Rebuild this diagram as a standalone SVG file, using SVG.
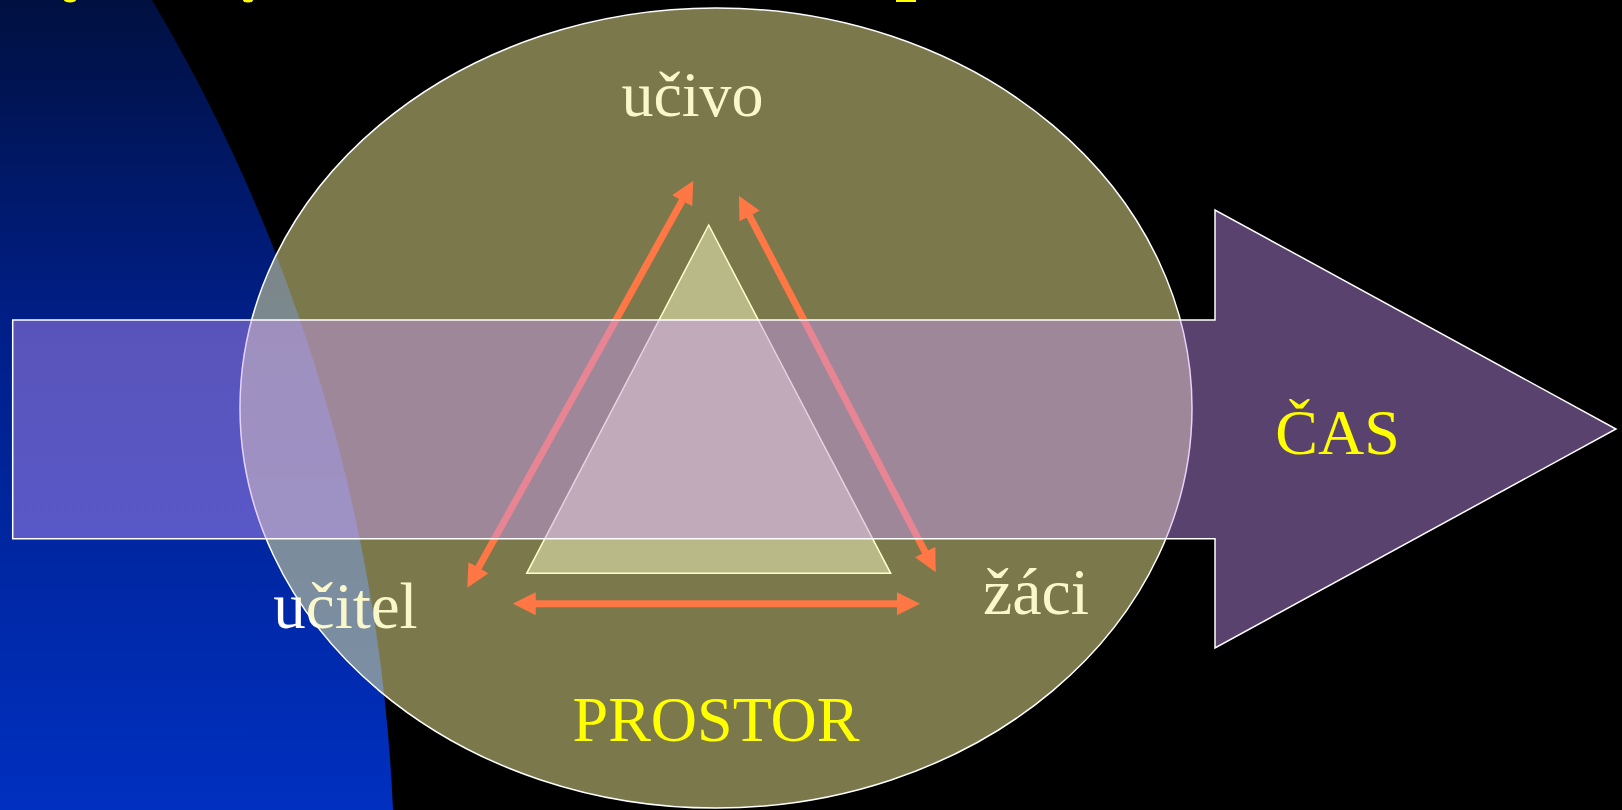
<svg xmlns="http://www.w3.org/2000/svg" width="1622" height="810" viewBox="0 0 1622 810">
  <defs>
    <linearGradient id="blueGrad" gradientUnits="userSpaceOnUse" x1="0" y1="0" x2="0" y2="810">
      <stop offset="0" stop-color="#001040"/>
      <stop offset="0.4" stop-color="#001f88"/>
      <stop offset="1" stop-color="#0030c0"/>
    </linearGradient>
    <marker id="head" markerUnits="userSpaceOnUse" markerWidth="23" markerHeight="23" refX="8" refY="11.5" orient="auto-start-reverse" viewBox="0 0 23 23">
      <path d="M0,0 L23,11.5 L0,23 Z" fill="#FF7744"/>
    </marker>
    <style>
      .lbl { font-family: "Liberation Serif", "Times New Roman", serif; fill: #FFFFFF; }
      .ylbl { font-family: "Liberation Serif", "Times New Roman", serif; fill: #FFFF00; }
      .conn { stroke: #FF7744; stroke-width: 7; fill: none; marker-start: url(#head); marker-end: url(#head); }
    </style>
  </defs>

  <rect x="0" y="0" width="1622" height="810" fill="#000000"/>
  <path id="bg-curve" d="M152,0 A1736,1736 0 0 1 393,810 L0,810 L0,0 Z" fill="url(#blueGrad)"/>

  <g id="title-fragments" fill="#FFFF00">
    <ellipse cx="70" cy="0" rx="6" ry="2.5"/>
    <ellipse cx="248" cy="0" rx="5" ry="2.5"/>
    <rect x="896" y="0" width="20" height="2"/>
  </g>

  <g id="node-ucivo"><text class="lbl" x="692.5" y="116" font-size="64" text-anchor="middle">učivo</text></g>
  <g id="node-ucitel"><text class="lbl" x="345.5" y="628" font-size="65" text-anchor="middle">učitel</text></g>
  <g id="node-zaci"><text class="lbl" x="1036" y="614" font-size="66" text-anchor="middle">žáci</text></g>

  <g id="node-prostor-ellipse">
    <ellipse cx="716" cy="408" rx="476" ry="400" fill="#F5F296" fill-opacity="0.5" stroke="#FFFFFF" stroke-width="1.5"/>
  </g>

  <g id="node-triangle">
    <polygon points="708.7,225 890.7,573.3 526.7,573.3" fill="#FFFFCC" fill-opacity="0.47" stroke="#FFFFCC" stroke-width="1.5"/>
  </g>

  <g id="connectors">
    <line class="conn" x1="686.0" y1="193.8" x2="474.6" y2="574.6"/>
    <line class="conn" x1="745.9" y1="209.0" x2="928.8" y2="559.0"/>
    <line class="conn" x1="527.7" y1="603.7" x2="905" y2="603.7"/>
  </g>

  <g id="node-cas-arrow">
    <polygon points="12.7,320 1215,320 1215,210 1616,429 1215,648 1215,538.7 12.7,538.7" fill="#CA98FA" fill-opacity="0.44" stroke="#FFFFFF" stroke-width="1.5"/>
    <text class="ylbl" x="1337.5" y="454" font-size="64" text-anchor="middle">ČAS</text>
  </g>

  <g id="node-prostor-label">
    <text class="ylbl" x="716" y="741" font-size="64" text-anchor="middle">PROSTOR</text>
  </g>
</svg>
